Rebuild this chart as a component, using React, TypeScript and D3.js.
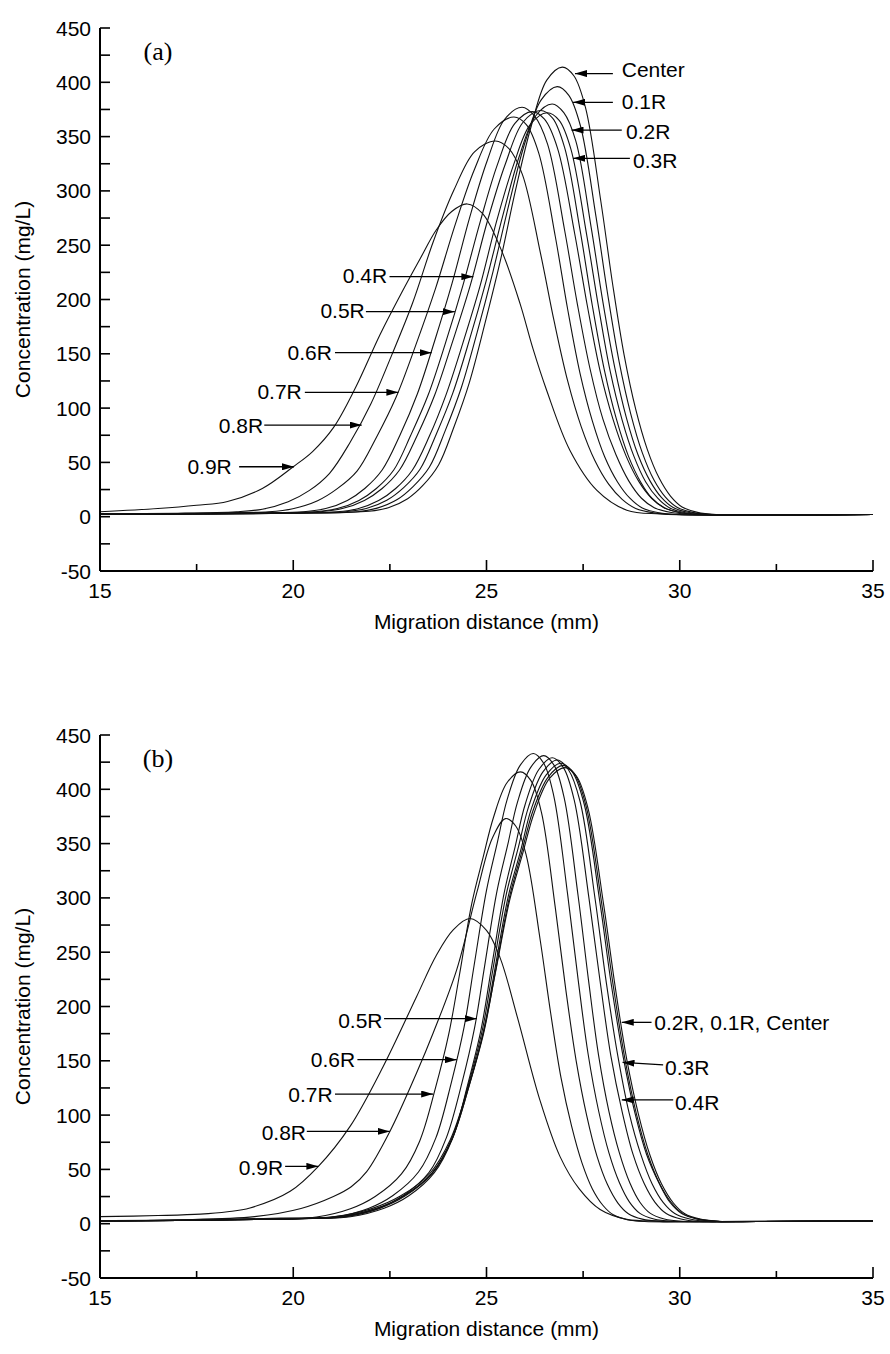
import React from "react";
import * as d3 from "d3";

type Pt = [number, number];

// ---------- axis ticks ----------
const xMajorTicks = [15, 20, 25, 30, 35];
const xMinorTicks = [17.5, 22.5, 27.5, 32.5];
const yLabelTicks = [-50, 0, 50, 100, 150, 200, 250, 300, 350, 400, 450];
const yMinorTicks = [-25, 25, 75, 125, 175, 225, 275, 325, 375, 425];

const seriesNames = ["Center", "0.1R", "0.2R", "0.3R", "0.4R", "0.5R", "0.6R", "0.7R", "0.8R", "0.9R"];

// ---------- panel (a) ----------
const aCenter: Pt[] = [[15,2],[18,2.5],[20,3.2],[21.96,5],[22.46,8.3],[22.96,16.6],[23.36,29],[23.76,47.6],[24.16,82.8],[24.56,124],[24.96,178],[25.36,236],[25.76,302],[26.16,360],[26.56,402],[26.96,414],[27.26,406],[27.56,377],[27.96,290],[28.26,215],[28.56,149],[28.86,99],[29.16,62],[29.46,36],[29.76,19],[30.06,9],[30.46,4],[30.96,2],[32,1.5],[35,2]];
const a01R: Pt[] = [[15,2],[18,2.5],[20,3.2],[21.66,4.6],[22.17,7.9],[22.69,15.8],[23.1,27.7],[23.52,45.5],[23.93,79],[24.35,119],[24.76,170],[25.17,226],[25.59,289],[26,345],[26.42,384],[26.83,396],[27.13,388],[27.43,360],[27.83,277],[28.13,206],[28.43,143],[28.73,95],[29.03,59],[29.33,34],[29.63,18],[29.93,8.7],[30.33,4],[30.83,2],[32,1.5],[35,2]];
const a02R: Pt[] = [[15,2.2],[18,2.6],[20,3.4],[21.35,4.6],[21.89,7.6],[22.42,15.2],[22.85,26.6],[23.28,43.7],[23.7,76],[24.13,114],[24.56,163],[24.99,217],[25.42,277],[25.84,331],[26.27,369],[26.7,380],[27,372],[27.31,346],[27.71,266],[28.01,198],[28.32,137],[28.62,91],[28.92,57],[29.23,33],[29.53,17.5],[29.83,8.4],[30.24,3.8],[30.74,2],[32,1.5],[35,2]];
const a03R: Pt[] = [[15,2.3],[18,2.8],[20,3.5],[21.12,4.6],[21.67,7.4],[22.21,14.9],[22.65,26],[23.08,42.8],[23.52,74],[23.95,112],[24.39,160],[24.83,212],[25.26,272],[25.7,324],[26.13,361],[26.57,372],[26.88,365],[27.18,339],[27.59,260],[27.9,193],[28.2,134],[28.51,89],[28.81,56],[29.12,32],[29.43,17],[29.73,8.2],[30.14,3.7],[30.65,2],[32,1.5],[35,2]];
const a04R: Pt[] = [[15,2.4],[18,3],[19.5,3.6],[20.7,4.6],[21.27,7.5],[21.84,15],[22.3,26],[22.75,43],[23.21,75],[23.66,112],[24.12,161],[24.58,213],[25.03,273],[25.49,325],[25.94,363],[26.4,374],[26.71,367],[27.02,340],[27.43,262],[27.74,194],[28.05,135],[28.36,90],[28.67,56],[28.98,32.5],[29.28,17],[29.59,8.2],[30.01,3.7],[30.52,2],[32,1.5],[35,2]];
const a05R: Pt[] = [[15,2.5],[18,3],[19.5,3.7],[20.58,4.6],[21.14,7.5],[21.7,15],[22.15,26],[22.6,43],[23.04,75],[23.49,112],[23.94,160],[24.39,213],[24.84,272],[25.28,324],[25.73,362],[26.18,373],[26.5,366],[26.84,339],[27.28,261],[27.61,194],[27.94,134],[28.27,90],[28.61,56],[28.94,32.5],[29.27,17],[29.6,8.2],[30.04,3.7],[30.59,2],[32,1.5],[35,2]];
const a06R: Pt[] = [[15,2.5],[17.5,3],[19.2,3.7],[20.27,4.6],[20.84,7.5],[21.4,15],[21.85,26],[22.3,43],[22.76,75],[23.21,113],[23.66,162],[24.11,215],[24.56,275],[25.02,328],[25.47,366],[25.92,377],[26.24,369],[26.58,343],[27.02,264],[27.35,196],[27.68,136],[28.01,90],[28.35,57],[28.68,33],[29.01,17],[29.34,8.3],[29.78,3.8],[30.33,2],[32,1.5],[35,2]];
const a07R: Pt[] = [[15,2.6],[17,3],[18.3,3.6],[19.36,4.6],[19.99,7.4],[20.63,14.7],[21.14,25.8],[21.65,42],[22.15,73],[22.66,110],[23.17,158],[23.68,210],[24.19,269],[24.69,320],[25.2,357],[25.71,368],[26.03,361],[26.35,335],[26.78,258],[27.1,191],[27.42,132],[27.74,88],[28.06,55],[28.39,32],[28.71,17],[29.03,8],[29.46,3.7],[29.99,2],[31,1.5],[35,2]];
const a08R: Pt[] = [[15,2.8],[17,3.2],[18.53,4.6],[19.2,6.9],[19.87,13.8],[20.41,24],[20.94,40],[21.48,69],[22.01,104],[22.55,149],[23.09,197],[23.62,253],[24.16,301],[24.69,336],[25.23,346],[25.58,339],[25.93,315],[26.4,242],[26.75,180],[27.1,125],[27.45,83],[27.8,52],[28.16,30],[28.51,16],[28.86,7.6],[29.33,3.5],[29.91,2],[31,1.5],[35,2]];
const a09R: Pt[] = [[15,4.5],[16.5,7.5],[17.5,10.5],[18.3,14],[19.2,26],[20,46],[20.5,60],[21.04,82],[21.6,118],[22.25,168],[22.8,206],[23.29,238],[23.7,264],[24.1,281],[24.5,288],[24.9,279],[25.39,245],[25.87,196],[26.2,155],[26.56,116],[27.16,61],[27.85,24.5],[28.63,6],[29.5,2.5],[31,1.5],[35,2]];

// ---------- panel (b) ----------
const bCenter: Pt[] = [[15,2.5],[17,3],[19,3.8],[20.2,4.8],[21.03,6.3],[22.03,13.9],[22.76,25.2],[23.53,46],[24.06,77],[24.53,126],[24.92,176],[25.23,231],[25.6,298],[25.93,340],[26.23,378],[26.63,410],[27.03,420],[27.33,412],[27.63,382],[28.03,294],[28.33,218],[28.63,151],[28.93,101],[29.23,63],[29.53,36.5],[29.83,19.3],[30.13,9.2],[30.53,4.2],[31.03,2.1],[32,2],[35,2.5]];
const b01R: Pt[] = [[15,2.5],[17,3],[19,3.8],[20.3,4.8],[21.16,6.3],[22.13,13.9],[22.84,25.3],[23.58,46],[24.1,77],[24.55,127],[24.93,176],[25.23,232],[25.59,300],[25.91,342],[26.2,380],[26.59,411],[26.98,422],[27.28,414],[27.58,384],[27.98,295],[28.28,219],[28.58,152],[28.88,101],[29.18,63],[29.48,36.7],[29.78,19.4],[30.08,9.3],[30.48,4.2],[30.98,2.1],[32,2],[35,2.5]];
const b02R: Pt[] = [[15,2.5],[17,3],[19,3.8],[20.4,4.8],[21.22,6.4],[22.17,14],[22.86,25.4],[23.59,46.6],[24.1,77.6],[24.55,127],[24.92,177],[25.21,233],[25.56,301],[25.88,343],[26.16,382],[26.54,413],[26.92,424],[27.22,416],[27.53,386],[27.93,297],[28.23,220],[28.54,153],[28.84,102],[29.14,64],[29.47,37],[29.75,19.5],[30.05,9.3],[30.46,4.2],[30.96,2.1],[32,2],[35,2.5]];
const b03R: Pt[] = [[15,2.5],[17,3],[19,3.9],[20.5,4.9],[21.31,6.4],[22.23,14.1],[22.9,25.6],[23.61,47],[24.1,78],[24.53,128],[24.89,178],[25.17,235],[25.51,303],[25.82,346],[26.09,384],[26.46,416],[26.83,427],[27.12,418],[27.42,389],[27.81,299],[28.1,222],[28.4,154],[28.69,102],[28.99,64],[29.28,37],[29.57,19.6],[29.87,9.4],[30.26,4.3],[30.75,2.1],[32,2],[35,2.5]];
const b04R: Pt[] = [[15,2.5],[17,3],[19,4],[20.6,5],[21.48,6.4],[22.35,14.2],[22.99,25.7],[23.65,47],[24.12,78.5],[24.52,129],[24.86,179],[25.13,236],[25.46,305],[25.74,347],[26,386],[26.35,418],[26.7,429],[26.99,420],[27.27,390],[27.65,300],[27.94,223],[28.22,154],[28.51,103],[28.79,64],[29.08,37],[29.36,19.7],[29.65,9.4],[30.03,4.3],[30.5,2.1],[32,2],[35,2.5]];
const b05R: Pt[] = [[15,2.6],[17,3.1],[19,4.1],[20.5,5],[21.38,6.5],[22.23,14.2],[22.85,25.9],[23.51,47],[23.96,79],[24.36,129],[24.69,180],[24.95,237],[25.27,306],[25.55,349],[25.8,388],[26.14,420],[26.48,431],[26.75,422],[27.01,392],[27.37,302],[27.64,224],[27.9,155],[28.17,103],[28.44,65],[28.71,37.5],[28.97,19.8],[29.24,9.5],[29.6,4.3],[30.04,2.2],[31.5,2],[35,2.5]];
const b06R: Pt[] = [[15,2.6],[17,3.2],[19,4.3],[20.3,5.1],[21.11,6.5],[21.96,14.3],[22.58,26],[23.24,47.6],[23.69,79],[24.09,130],[24.42,181],[24.68,238],[25,307],[25.28,351],[25.53,390],[25.87,422],[26.21,433],[26.48,424],[26.74,394],[27.1,303],[27.37,225],[27.63,156],[27.9,104],[28.17,65],[28.44,37.7],[28.7,19.9],[28.97,9.5],[29.33,4.3],[29.77,2.2],[31.5,2],[35,2.5]];
const b07R: Pt[] = [[15,2.7],[17,3.3],[18.8,4.5],[19.8,5.2],[20.6,6.2],[21.48,13.7],[22.12,25],[22.8,45.8],[23.27,76],[23.68,125],[24.02,174],[24.3,229],[24.62,295],[24.91,337],[25.18,374],[25.53,406],[25.88,416],[26.15,408],[26.42,379],[26.78,291],[27.05,216],[27.32,150],[27.59,100],[27.86,62],[28.13,36],[28.4,19],[28.67,9.2],[29.03,4.2],[29.48,2.1],[31,2],[35,2.5]];
const b08R: Pt[] = [[15,3],[17,3.6],[19,6.5],[20.2,14],[21.04,25],[21.5,34],[21.9,48],[22.5,85],[23.19,138.8],[23.62,175.6],[24.23,234],[24.75,305],[25.15,355],[25.49,373],[25.76,366],[26.03,339],[26.39,261],[26.66,194],[26.93,134],[27.2,90],[27.47,56],[27.74,32],[28.01,17],[28.28,8.2],[28.64,3.7],[29.09,2],[31,2],[35,2.5]];
const b09R: Pt[] = [[15,6.5],[16.5,7.5],[17.6,8.8],[18.3,11],[18.88,14.5],[19.92,29.8],[20.65,52.8],[21.47,89.6],[22.33,145],[23.19,209],[23.7,247],[24.15,271],[24.57,281],[25,270],[25.35,245],[25.8,190],[26.38,114],[26.9,62],[27.4,32],[27.94,13],[28.63,4],[29.5,2.5],[31,2],[35,2.5]];

const seriesA = [aCenter, a01R, a02R, a03R, a04R, a05R, a06R, a07R, a08R, a09R];
const seriesB = [bCenter, b01R, b02R, b03R, b04R, b05R, b06R, b07R, b08R, b09R];

// ---------- annotations (data coordinates) ----------
type Ann = { label: string; tip: Pt; tail: Pt; text: Pt; anchor: "start" | "end" };
const annA: Ann[] = [
  { label: "Center", tip: [27.29, 408], tail: [28.27, 408], text: [28.5, 412], anchor: "start" },
  { label: "0.1R", tip: [27.24, 381.6], tail: [28.27, 381.6], text: [28.5, 382], anchor: "start" },
  { label: "0.2R", tip: [27.2, 356], tail: [28.5, 356], text: [28.61, 355], anchor: "start" },
  { label: "0.3R", tip: [27.24, 330], tail: [28.71, 330], text: [28.79, 328], anchor: "start" },
  { label: "0.4R", tip: [24.66, 221], tail: [22.49, 221], text: [22.43, 222], anchor: "end" },
  { label: "0.5R", tip: [24.18, 188.8], tail: [21.88, 188.8], text: [21.85, 190], anchor: "end" },
  { label: "0.6R", tip: [23.58, 151], tail: [21.08, 151], text: [21.0, 151], anchor: "end" },
  { label: "0.7R", tip: [22.72, 114.5], tail: [20.3, 114.5], text: [20.22, 115], anchor: "end" },
  { label: "0.8R", tip: [21.77, 84.4], tail: [19.25, 84.4], text: [19.22, 84], anchor: "end" },
  { label: "0.9R", tip: [20.02, 46], tail: [18.6, 46], text: [18.41, 46], anchor: "end" },
];
const annB: Ann[] = [
  { label: "0.5R", tip: [24.75, 188.8], tail: [22.35, 188.8], text: [22.31, 187], anchor: "end" },
  { label: "0.6R", tip: [24.23, 151], tail: [21.66, 151], text: [21.6, 151.5], anchor: "end" },
  { label: "0.7R", tip: [23.62, 119.4], tail: [21.08, 119.4], text: [21.02, 119], anchor: "end" },
  { label: "0.8R", tip: [22.5, 85], tail: [20.35, 85], text: [20.33, 84], anchor: "end" },
  { label: "0.9R", tip: [20.65, 52.8], tail: [19.79, 52.8], text: [19.74, 52], anchor: "end" },
  { label: "0.2R, 0.1R, Center", tip: [28.5, 185.4], tail: [29.27, 185.4], text: [29.34, 185], anchor: "start" },
  { label: "0.3R", tip: [28.52, 148.5], tail: [29.57, 146.3], text: [29.62, 144], anchor: "start" },
  { label: "0.4R", tip: [28.5, 114], tail: [29.83, 114], text: [29.88, 112], anchor: "start" },
];

const SANS = "'Liberation Sans', Arial, Helvetica, sans-serif";
const SERIF = "'Liberation Serif', 'Times New Roman', serif";
const FS = 21;

type PanelProps = { yTop: number; yBottom: number; series: Pt[][]; ann: Ann[]; tag: string };

function Panel({ yTop, yBottom, series, ann, tag }: PanelProps) {
  const x = d3.scaleLinear().domain([15, 35]).range([100, 873]);
  const y = d3.scaleLinear().domain([-50, 450]).range([yBottom, yTop]);
  const line = d3
    .line<Pt>()
    .x((d) => x(d[0]))
    .y((d) => y(d[1]))
    .curve(d3.curveCatmullRom.alpha(0.5));
  const y0 = y(-50);
  const x0 = x(15);
  return (
    <g>
      {series.map((s, i) => (
        <path key={seriesNames[i]} d={line(s) || ""} fill="none" stroke="#111" strokeWidth={1.1} />
      ))}
      {/* axes */}
      <line x1={x0} x2={x0} y1={y(450)} y2={y0} stroke="#000" strokeWidth={2} />
      <line x1={x0} x2={x(35)} y1={y0} y2={y0} stroke="#000" strokeWidth={2} />
      {yLabelTicks.map((v) => (
        <g key={"yl" + v}>
          <line x1={x0} x2={x0 + 10} y1={y(v)} y2={y(v)} stroke="#000" strokeWidth={1.6} />
          <text x={x0 - 9} y={y(v)} textAnchor="end" dominantBaseline="central" fontFamily={SANS} fontSize={FS}>
            {v}
          </text>
        </g>
      ))}
      {yMinorTicks.map((v) => (
        <line key={"ym" + v} x1={x0} x2={x0 + 10} y1={y(v)} y2={y(v)} stroke="#000" strokeWidth={1.6} />
      ))}
      {xMajorTicks.map((v) => (
        <g key={"xl" + v}>
          <line x1={x(v)} x2={x(v)} y1={y0} y2={y0 - 11} stroke="#000" strokeWidth={1.6} />
          <text x={x(v)} y={y0 + 19} textAnchor="middle" dominantBaseline="central" fontFamily={SANS} fontSize={FS}>
            {v}
          </text>
        </g>
      ))}
      {xMinorTicks.map((v) => (
        <line key={"xm" + v} x1={x(v)} x2={x(v)} y1={y0} y2={y0 - 7} stroke="#000" strokeWidth={1.6} />
      ))}
      <text x={(x(15) + x(35)) / 2} y={y0 + 50} textAnchor="middle" dominantBaseline="central" fontFamily={SANS} fontSize={FS}>
        Migration distance (mm)
      </text>
      <text
        transform={`translate(22,${(y(450) + y0) / 2}) rotate(-90)`}
        textAnchor="middle"
        dominantBaseline="central"
        fontFamily={SANS}
        fontSize={FS}
      >
        Concentration (mg/L)
      </text>
      <text x={x(16.5)} y={y(428)} textAnchor="middle" dominantBaseline="central" fontFamily={SERIF} fontSize={26}>
        {tag}
      </text>
      {ann.map((a, i) => (
        <g key={"ann" + i}>
          <line
            x1={x(a.tail[0])}
            y1={y(a.tail[1])}
            x2={x(a.tip[0])}
            y2={y(a.tip[1])}
            stroke="#000"
            strokeWidth={1.3}
            markerEnd="url(#arrowHead)"
          />
          <text
            x={x(a.text[0])}
            y={y(a.text[1])}
            textAnchor={a.anchor}
            dominantBaseline="central"
            fontFamily={SANS}
            fontSize={FS}
          >
            {a.label}
          </text>
        </g>
      ))}
    </g>
  );
}

export default function App() {
  return (
    <svg
      width={890}
      height={1354}
      viewBox="0 0 890 1354"
      style={{ position: "absolute", left: 0, top: 0, background: "#fff" }}
    >
      <defs>
        <marker
          id="arrowHead"
          viewBox="0 0 12 7"
          refX={12}
          refY={3.5}
          markerWidth={12}
          markerHeight={7}
          markerUnits="userSpaceOnUse"
          orient="auto"
        >
          <path d="M0,0 L12,3.5 L0,7 z" fill="#000" />
        </marker>
      </defs>
      <rect x={0} y={0} width={890} height={1354} fill="#fff" />
      <Panel yTop={28} yBottom={571} series={seriesA} ann={annA} tag="(a)" />
      <Panel yTop={735} yBottom={1278} series={seriesB} ann={annB} tag="(b)" />
    </svg>
  );
}
